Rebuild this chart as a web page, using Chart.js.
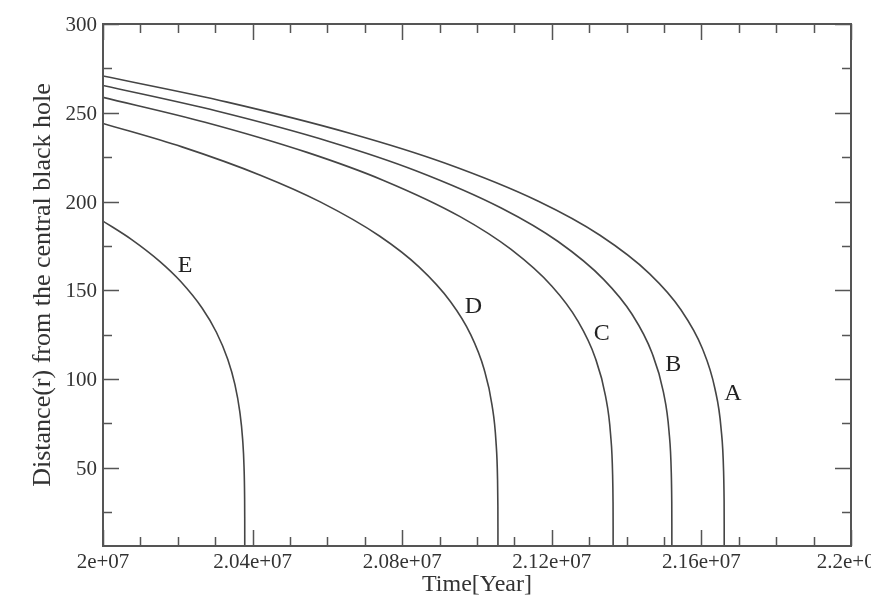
<!DOCTYPE html>
<html>
<head>
<meta charset="utf-8">
<title>Distance from the central black hole</title>
<script src="https://cdn.jsdelivr.net/npm/chart.js@4"></script>
<style>
  html, body { margin: 0; padding: 0; background: #fff; }
</style>
</head>
<body>
<canvas id="orbitChart" width="871" height="599"></canvas>
<script>
// orbit decay of the five stars, time in years, r in units of M
const timeA = [20000000, 20332200, 20664400, 20913550, 21162700, 21328800, 21461680, 21544730, 21602865, 21636085, 21652695, 21659339, 21660668, 21660967, 21661000];
const distA = [270.7, 256.0, 238.2, 221.7, 200.3, 181.0, 159.3, 139.2, 117.1, 94.7, 72.0, 48.1, 32.2, 18.1, 6];

const timeB = [20000000, 20304200, 20608400, 20836550, 21064700, 21216800, 21338480, 21414530, 21467765, 21498185, 21513395, 21519479, 21520696, 21520970, 21521000];
const distB = [265.4, 251.0, 233.6, 217.4, 196.4, 177.5, 156.2, 136.5, 114.8, 92.9, 70.6, 47.2, 31.6, 17.7, 6];

const timeC = [20000000, 20272800, 20545600, 20750200, 20954800, 21091200, 21200320, 21268520, 21316260, 21343540, 21357180, 21362636, 21363727, 21363973, 21364000];
const distC = [258.7, 244.7, 227.7, 211.9, 191.5, 173.0, 152.3, 133.1, 111.9, 90.5, 68.8, 46.0, 30.8, 17.3, 6];

const timeD = [20000000, 20211200, 20422400, 20580800, 20739200, 20844800, 20929280, 20982080, 21019040, 21040160, 21050720, 21054944, 21055789, 21055979, 21056000];
const distD = [244.0, 230.8, 214.7, 199.8, 180.6, 163.2, 143.6, 125.5, 105.5, 85.4, 64.9, 43.4, 29.0, 16.3, 6];

const timeE = [20000000, 20075800, 20151600, 20208450, 20265300, 20303200, 20333520, 20352470, 20365735, 20373315, 20377105, 20378621, 20378924, 20378992, 20379000];
const distE = [189.0, 178.7, 166.3, 154.8, 139.9, 126.4, 111.2, 97.2, 81.7, 66.2, 50.3, 33.6, 22.5, 12.6, 6];

const curveNames = ['A', 'B', 'C', 'D', 'E'];
const labelTime = [21684500, 21524900, 21333400, 20990100, 20219300];
const labelDist = [92, 107.9, 125.8, 140.8, 163.9];

const xMajorTicks = [20000000, 20400000, 20800000, 21200000, 21600000, 22000000];
const xTickLabels = ['2e+07', '2.04e+07', '2.08e+07', '2.12e+07', '2.16e+07', '2.2e+07'];
const xMinorTicks = [20100000, 20200000, 20300000, 20500000, 20600000, 20700000, 20900000, 21000000, 21100000,
                     21300000, 21400000, 21500000, 21700000, 21800000, 21900000];
const yMajorTicks = [50, 100, 150, 200, 250, 300];
const yTickLabels = ['50', '100', '150', '200', '250', '300'];
const yMinorTicks = [25, 75, 125, 175, 225, 275];

const LINE = '#454545';
const SERIF = '"Liberation Serif", "Times New Roman", serif';

function toPoints(times, dists) {
  return times.map((t, i) => ({ x: t, y: dists[i] }));
}

const allTimes = [timeA, timeB, timeC, timeD, timeE];
const allDists = [distA, distB, distC, distD, distE];

const datasets = curveNames.map((name, i) => ({
  label: name,
  data: toPoints(allTimes[i], allDists[i]),
  showLine: true,
  borderColor: LINE,
  borderWidth: 1.6,
  pointRadius: 0,
  cubicInterpolationMode: 'monotone',
  fill: false
}));

// frame, inward ticks on all four sides, tick labels and curve letters
const framePlugin = {
  id: 'frame',
  afterDraw(chart) {
    const ctx = chart.ctx;
    const area = chart.chartArea;
    const xs = chart.scales.x;
    const ys = chart.scales.y;
    ctx.save();
    ctx.strokeStyle = '#555';
    ctx.lineWidth = 2;
    ctx.strokeRect(area.left, area.top, area.right - area.left, area.bottom - area.top);

    ctx.lineWidth = 1.5;
    ctx.beginPath();
    const xTick = (v, len) => {
      const px = Math.round(xs.getPixelForValue(v)) + 0.5;
      ctx.moveTo(px, area.bottom); ctx.lineTo(px, area.bottom - len);
      ctx.moveTo(px, area.top); ctx.lineTo(px, area.top + len);
    };
    const yTick = (v, len) => {
      const py = Math.round(ys.getPixelForValue(v)) + 0.5;
      ctx.moveTo(area.left, py); ctx.lineTo(area.left + len, py);
      ctx.moveTo(area.right, py); ctx.lineTo(area.right - len, py);
    };
    xMajorTicks.forEach(v => xTick(v, 16));
    xMinorTicks.forEach(v => xTick(v, 9));
    yMajorTicks.forEach(v => yTick(v, 16));
    yMinorTicks.forEach(v => yTick(v, 9));
    ctx.stroke();

    ctx.fillStyle = '#333';
    ctx.font = '21px ' + SERIF;
    ctx.textAlign = 'center';
    ctx.textBaseline = 'alphabetic';
    xMajorTicks.forEach((v, i) => {
      ctx.fillText(xTickLabels[i], xs.getPixelForValue(v), 568);
    });
    ctx.textAlign = 'right';
    yMajorTicks.forEach((v, i) => {
      ctx.fillText(yTickLabels[i], area.left - 6, ys.getPixelForValue(v) + 7);
    });

    ctx.fillStyle = '#222';
    ctx.font = '24px ' + SERIF;
    ctx.textAlign = 'center';
    ctx.textBaseline = 'middle';
    curveNames.forEach((name, i) => {
      ctx.fillText(name, xs.getPixelForValue(labelTime[i]), ys.getPixelForValue(labelDist[i]));
    });
    ctx.restore();
  }
};

new Chart(document.getElementById('orbitChart'), {
  type: 'scatter',
  data: { datasets: datasets },
  options: {
    responsive: false,
    animation: false,
    devicePixelRatio: 1,
    layout: { padding: { left: 0, right: 20, top: 24, bottom: 0 } },
    plugins: {
      legend: { display: false },
      tooltip: { enabled: false }
    },
    scales: {
      x: {
        type: 'linear',
        min: 20000000,
        max: 22000000,
        grid: { display: false },
        border: { display: false },
        ticks: { display: false },
        title: {
          display: true,
          text: 'Time[Year]',
          color: '#333',
          font: { family: SERIF, size: 24 },
          padding: { top: 0, bottom: 0 }
        },
        afterFit(scale) { scale.height = 53; }
      },
      y: {
        type: 'linear',
        min: 6,
        max: 300,
        grid: { display: false },
        border: { display: false },
        ticks: { display: false },
        title: {
          display: true,
          text: 'Distance(r) from the central black hole',
          color: '#333',
          font: { family: SERIF, size: 26 },
          padding: { top: 28, bottom: 0 }
        },
        afterFit(scale) { scale.width = 103; }
      }
    }
  },
  plugins: [framePlugin]
});
</script>
</body>
</html>
